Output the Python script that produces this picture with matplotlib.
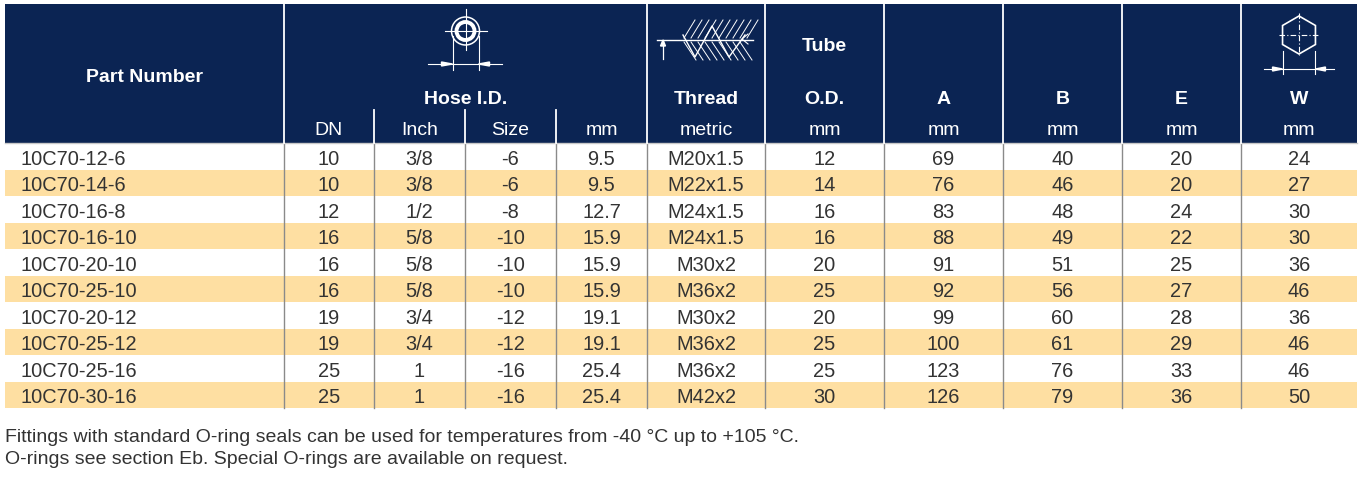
import matplotlib
matplotlib.use("Agg")
import matplotlib.pyplot as plt
from matplotlib.patches import Rectangle, Circle, Polygon
import numpy as np

plt.rcParams['font.family'] = ['Liberation Sans', 'DejaVu Sans']

# ---- data ----
part_numbers = ["10C70-12-6", "10C70-14-6", "10C70-16-8", "10C70-16-10", "10C70-20-10",
                "10C70-25-10", "10C70-20-12", "10C70-25-12", "10C70-25-16", "10C70-30-16"]
hose_dn = ["10", "10", "12", "16", "16", "16", "19", "19", "25", "25"]
hose_inch = ["3/8", "3/8", "1/2", "5/8", "5/8", "5/8", "3/4", "3/4", "1", "1"]
hose_size = ["-6", "-6", "-8", "-10", "-10", "-10", "-12", "-12", "-16", "-16"]
hose_mm = ["9.5", "9.5", "12.7", "15.9", "15.9", "15.9", "19.1", "19.1", "25.4", "25.4"]
thread = ["M20x1.5", "M22x1.5", "M24x1.5", "M24x1.5", "M30x2", "M36x2", "M30x2", "M36x2", "M36x2", "M42x2"]
tube_od = ["12", "14", "16", "16", "20", "25", "20", "25", "25", "30"]
dim_a = ["69", "76", "83", "88", "91", "92", "99", "100", "123", "126"]
dim_b = ["40", "46", "48", "49", "51", "56", "60", "61", "76", "79"]
dim_e = ["20", "20", "24", "22", "25", "27", "28", "29", "33", "36"]
dim_w = ["24", "27", "30", "30", "36", "46", "36", "46", "46", "50"]

sub_headers = ["DN", "Inch", "Size", "mm", "metric", "mm", "mm", "mm", "mm", "mm"]
notes = ["Fittings with standard O-ring seals can be used for temperatures from -40 °C up to +105 °C.",
         "O-rings see section Eb. Special O-rings are available on request."]

columns = [part_numbers, hose_dn, hose_inch, hose_size, hose_mm, thread, tube_od,
           dim_a, dim_b, dim_e, dim_w]

# ---- layout ----
W, H = 1363, 489
NAVY = "#0b2453"
STRIPE = "#fedfa2"
TXT = "#333333"
edges = [5, 284, 374, 465, 556, 647, 765, 884, 1003, 1122, 1241, 1357]
top, head_bot = 5, 144
row_h = 26.5

fig = plt.figure(figsize=(W / 100, H / 100), dpi=100)
ax = fig.add_axes([0, 0, 1, 1])
ax.set_xlim(0, W)
ax.set_ylim(H, 0)
ax.axis('off')

# header background
ax.add_patch(Rectangle((edges[0], top), edges[-1] - edges[0], head_bot - top,
                       facecolor=NAVY, edgecolor='none', zorder=1))
# header white separators
for i, x in enumerate(edges[1:-1], start=1):
    if i in (2, 3, 4):
        ax.plot([x, x], [111, head_bot], color='white', lw=1.3, zorder=3)
    else:
        ax.plot([x, x], [top, head_bot], color='white', lw=1.3, zorder=3)

def cx(i):
    return (edges[i] + edges[i + 1]) / 2

hfs = 14
def htext(x, y, s, bold=True, size=hfs):
    ax.text(x, y, s, color='white', fontsize=size, fontweight='bold' if bold else 'normal',
            ha='center', va='baseline', zorder=4)

htext(cx(0), 82, "Part Number")
htext((edges[1] + edges[5]) / 2, 104, "Hose I.D.")
htext(cx(5), 104, "Thread")
htext(cx(6), 51, "Tube")
htext(cx(6), 104, "O.D.")
for i, lab in zip(range(7, 11), ["A", "B", "E", "W"]):
    htext(cx(i), 104, lab)
for i, lab in enumerate(sub_headers, start=1):
    htext(cx(i), 135, lab, bold=False, size=14)

# ---- icons ----
# hose I.D. icon
hx, hy = (edges[1] + edges[5]) / 2, 32
ax.add_patch(Circle((hx, hy), 14, fill=False, ec='white', lw=1.1, zorder=4))
ax.add_patch(Circle((hx, hy), 9, fill=False, ec='white', lw=2.8, zorder=4))
ax.plot([hx - 21, hx + 21], [hy, hy], color='white', lw=0.8, zorder=4)
ax.plot([hx, hx], [hy - 22, hy + 19], color='white', lw=0.8, zorder=4)
for sx in (-13, 13):
    ax.plot([hx + sx, hx + sx], [hy + 5, 71], color='white', lw=0.8, zorder=4)
ax.plot([hx - 38, hx + 36], [65, 65], color='white', lw=0.8, zorder=4)
ax.add_patch(Polygon([[hx - 13, 65], [hx - 24, 63], [hx - 24, 67]], color='white', zorder=4))
ax.add_patch(Polygon([[hx + 13, 65], [hx + 24, 63], [hx + 24, 67]], color='white', zorder=4))

# thread icon
ax.plot([657, 753], [41, 41], color='white', lw=1.0, zorder=4)
ax.plot([663, 663], [41, 60], color='white', lw=0.9, zorder=4)
ax.add_patch(Polygon([[663, 41], [660.5, 47], [665.5, 47]], color='white', zorder=4))
zz_x = [683, 695, 712, 729, 745]
zz_y = [36, 58, 27, 58, 36]
ax.plot(zz_x, zz_y, color='white', lw=1.0, zorder=4)
for x0 in np.arange(684, 750, 7):
    ax.plot([x0, x0 + 11], [39, 21], color='white', lw=0.7, zorder=4)
for x0 in np.arange(684, 744, 7):
    ax.plot([x0, x0 + 12], [43, 61], color='white', lw=0.7, zorder=4)
ax.plot([748, 742, 748], [35, 40, 45], color='white', lw=0.8, zorder=4)

# hex icon
wx, wy, R = cx(10), 36, 19
ang = np.deg2rad(90 + 60 * np.arange(6))
ax.add_patch(Polygon(np.column_stack([wx + R * np.cos(ang), wy - R * np.sin(ang)]),
                     fill=False, ec='white', lw=1.2, zorder=4))
ax.plot([wx - 20, wx + 20], [wy, wy], color='white', lw=0.8, ls=(0, (5, 2, 1, 2)), zorder=4)
ax.plot([wx, wx], [wy - 22, wy + 20], color='white', lw=0.8, ls=(0, (5, 2, 1, 2)), zorder=4)
hw = R * np.cos(np.deg2rad(30))
for sx in (-hw, hw):
    ax.plot([wx + sx, wx + sx], [52, 75], color='white', lw=0.8, zorder=4)
ax.plot([wx - 35, wx + 35], [70, 70], color='white', lw=0.8, zorder=4)
ax.add_patch(Polygon([[wx - hw, 70], [wx - hw - 10, 68], [wx - hw - 10, 72]], color='white', zorder=4))
ax.add_patch(Polygon([[wx + hw, 70], [wx + hw + 10, 68], [wx + hw + 10, 72]], color='white', zorder=4))

# ---- data rows ----
dfs = 14.4
n = len(part_numbers)
for r in range(n):
    y0 = head_bot + r * row_h
    if r % 2 == 1:
        ax.add_patch(Rectangle((edges[0], y0), edges[-1] - edges[0], row_h,
                               facecolor=STRIPE, edgecolor='none', zorder=1))
    yb = y0 + row_h / 2 + 7.5
    for c, col in enumerate(columns):
        if c == 0:
            ax.text(20, yb, col[r], color=TXT, fontsize=dfs, ha='left', va='baseline', zorder=4)
        else:
            ax.text(cx(c), yb, col[r], color=TXT, fontsize=dfs, ha='center', va='baseline', zorder=4)

table_bot = head_bot + n * row_h
for x in edges[1:-1]:
    ax.plot([x, x], [head_bot, table_bot], color='#8a8a8a', lw=1.0, zorder=2)
ax.plot([edges[0], edges[-1]], [head_bot, head_bot], color='#c8c8c8', lw=1.0, zorder=2)

# notes
ax.text(5, 442, notes[0], color=TXT, fontsize=14, ha='left', va='baseline')
ax.text(5, 464, notes[1], color=TXT, fontsize=14, ha='left', va='baseline')

fig.savefig("out.png", dpi=100, facecolor='white')
